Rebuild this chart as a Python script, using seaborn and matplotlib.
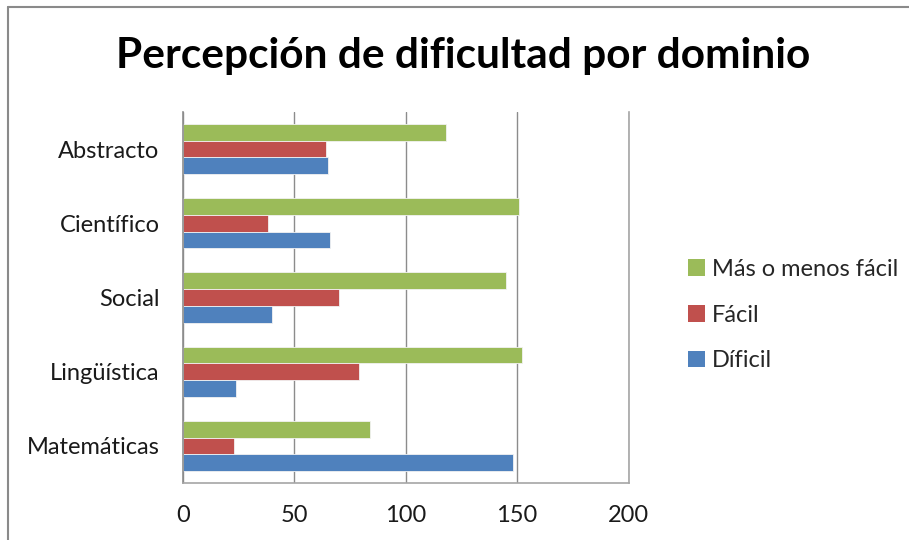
import matplotlib
matplotlib.use("Agg")
import matplotlib.pyplot as plt
from matplotlib.lines import Line2D
from matplotlib.patches import Patch
import seaborn as sns
import pandas as pd

# Survey counts per domain
dominios = ["Abstracto", "Científico", "Social", "Lingüística", "Matemáticas"]
mas_o_menos_facil = [118, 151, 145, 152, 84]
facil = [64, 38, 70, 79, 23]
dificil = [65, 66, 40, 24, 148]

series = ["Más o menos fácil", "Fácil", "Díficil"]
colores = {"Más o menos fácil": "#9BBB59", "Fácil": "#C0504D", "Díficil": "#4F81BD"}
x_ticks = [0, 50, 100, 150, 200]

rows = []
for nombre, valores in zip(series, [mas_o_menos_facil, facil, dificil]):
    for d, v in zip(dominios, valores):
        rows.append({"Dominio": d, "Respuesta": nombre, "Cantidad": v})
df = pd.DataFrame(rows)

sns.set_theme(style="white")
plt.rcParams["font.family"] = ["Lato", "DejaVu Sans"]

fig = plt.figure(figsize=(9.09, 5.40), dpi=100)
ax = fig.add_axes([183 / 909, 1 - 483 / 540, (628.5 - 183) / 909, (483 - 112) / 540])

sns.barplot(data=df, y="Dominio", x="Cantidad", hue="Respuesta",
            order=dominios, hue_order=series, palette=colores, saturation=1,
            orient="h", width=0.675, edgecolor="#F2F2F2", linewidth=0.6,
            ax=ax, legend=False)

ax.set_xlim(0, 200)
ax.set_xticks(x_ticks)
ax.set_xticklabels([str(t) for t in x_ticks])
ax.set_xlabel("")
ax.set_ylabel("")
ax.xaxis.grid(True, color="#8C8C8C", linewidth=1.0)
ax.set_axisbelow(True)
ax.spines["top"].set_visible(False)
ax.spines["right"].set_color("#A6A6A6")
ax.spines["right"].set_linewidth(1.2)
ax.spines["bottom"].set_color("#A6A6A6")
ax.spines["bottom"].set_linewidth(1.2)
ax.spines["left"].set_color("#8C8C8C")
ax.spines["left"].set_linewidth(1.2)
ax.tick_params(axis="both", length=0, labelsize=17, labelcolor="#1A1A1A")
ax.tick_params(axis="y", pad=17)
ax.tick_params(axis="x", pad=16)

fig.text(463 / 909, 1 - 56 / 540, "Percepción de dificultad por dominio",
         ha="center", va="center", fontsize=30.5, fontweight="bold", color="black")

handles = [Patch(facecolor=colores[s], edgecolor="none") for s in series]
fig.legend(handles, series, loc="center left",
           bbox_to_anchor=(679 / 909, 1 - 315 / 540), frameon=False,
           fontsize=17, handlelength=0.7, handleheight=0.7, handletextpad=0.3,
           labelspacing=1.05, borderaxespad=0)

# Chart frame
fig.add_artist(Line2D([8 / 909, 1], [1 - 7 / 540, 1 - 7 / 540],
                      transform=fig.transFigure, color="#8A8A8A", linewidth=1.5))
fig.add_artist(Line2D([8 / 909, 8 / 909], [1 - 7 / 540, 0],
                      transform=fig.transFigure, color="#8A8A8A", linewidth=1.5))

fig.savefig("out.png", dpi=100)
